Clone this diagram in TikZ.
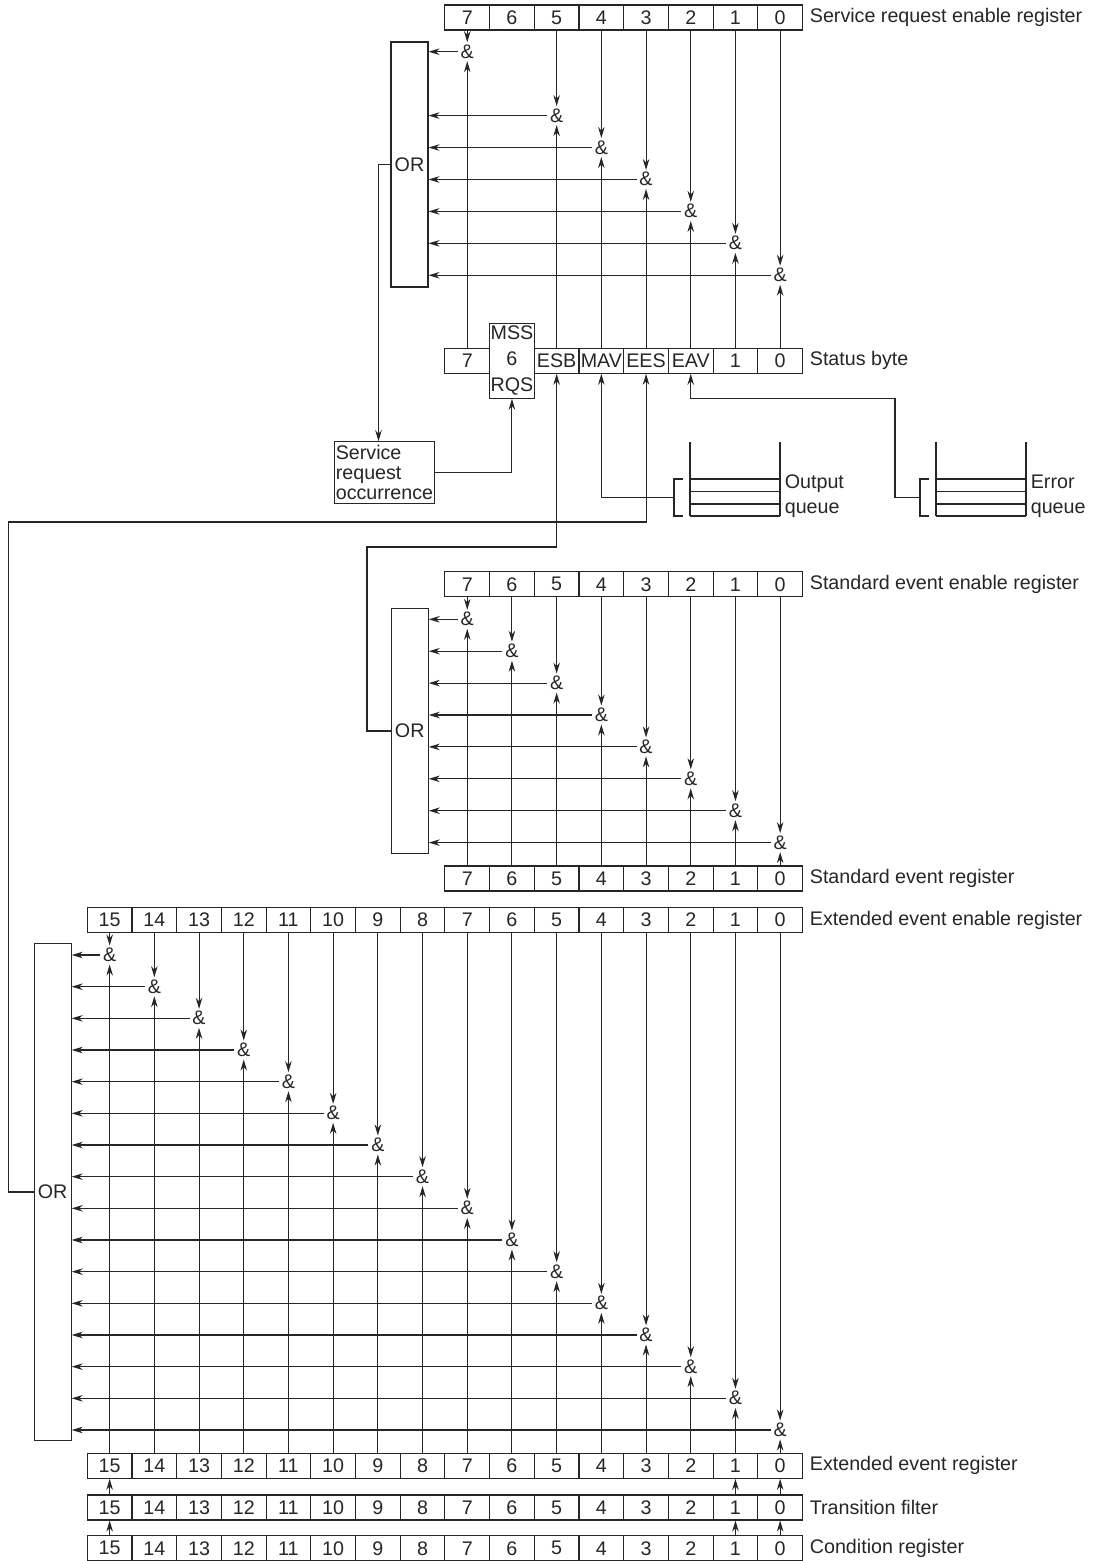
\documentclass[tikz,border=0pt]{standalone}
\usepackage{fontspec}
\setmainfont{Liberation Sans}
\usetikzlibrary{arrows.meta, calc, positioning}

\tikzstyle{cell}    =[rectangle, draw=black!85, line width=0.6pt, minimum width=0.894cm, minimum height=0.5cm, inner sep=0pt]
\tikzstyle{gate}    =[inner sep=1.5pt, text height=1.4ex, text depth=0pt]
\tikzstyle{orbox}   =[rectangle, draw=black!85, line width=0.6pt, minimum width=0.74cm, inner sep=0pt]
\tikzstyle{regname} =[anchor=west, inner sep=0pt]
\tikzstyle{wire}    =[draw=black!85, line width=0.6pt]
\tikzstyle{feed}    =[wire, -{Stealth[length=0.22cm, width=0.13cm, inset=0.07cm]}]

\begin{document}
\begin{tikzpicture}[font=\fontsize{11.2}{13.5}\selectfont, every node/.append style={text=black!85}]

	\useasboundingbox (0,0) rectangle (22,-31.22);

	% service request enable register and status byte
	\foreach \b in {0,...,7}
		\node (SRE\b)	[cell]	at ({15.603-0.894*\b}, -0.35)	{\b};
	\node (SRElbl)	[regname, right=0.13cm of SRE0]	{Service request enable register};

	\foreach \b/\t in {7/7,5/ESB,4/MAV,3/EES,2/EAV,1/1,0/0}
		\node (STB\b)	[cell]	at ({15.603-0.894*\b}, -7.215)	{\t};
	\node (STB6)	[cell, minimum height=1.5cm, align=center, font=\fontsize{11.2}{14.7}\selectfont]	at (10.239, -7.215)	{MSS\\6\\RQS};
	\node (STBlbl)	[regname, right=0.13cm of STB0]	{Status byte};

	\node (SROR)	[orbox, minimum height=4.9cm]	at (8.19, -3.29)	{OR};
	\foreach \b in {7,5,4,3,2,1,0}{
		\node (SRG\b)	[gate]	at ({15.603-0.894*\b}, {-1.034-0.6388*(7-\b)})	{\&};
		\draw[feed] (SRE\b) -- (SRG\b);
		\draw[feed] (STB\b) -- (SRG\b);
		\draw[feed] (SRG\b) -- (SRG\b -| SROR.east);
	}

	\node (SRQ)	[rectangle, draw=black!85, line width=0.6pt, align=left, minimum width=1.98cm, minimum height=1.23cm, inner sep=1pt, font=\fontsize{11.2}{11.3}\selectfont]	at (7.69, -9.45)	{Service\\request\\occurrence};
	\draw[feed] (SROR.west) -| ([xshift=-0.12cm]SRQ.north);
	\draw[feed] (SRQ.east) -| (STB6.south);

	% output queue and error queue
	\foreach \dx/\nm/\q in {0/Output/OQ, 4.92/Error/EQ}{
		\draw[wire] (13.8+\dx, -8.834) -- (13.8+\dx, -10.32)
		            (15.6+\dx, -8.834) -- (15.6+\dx, -10.32);
		\foreach \y in {-9.58, -9.834, -10.08, -10.32}
			\draw[wire] (13.8+\dx, \y) -- (15.6+\dx, \y);
		\draw[wire] (13.66+\dx, -9.58) -- (13.48+\dx, -9.58) -- (13.48+\dx, -10.32) -- (13.66+\dx, -10.32);
		\coordinate (\q) at (13.48+\dx, -9.95);
		\node (\q lbl)	[regname, align=left, font=\fontsize{11.2}{14.2}\selectfont]	at (15.69+\dx, -9.93)	{\nm\\queue};
	}
	\draw[feed] (OQ) -| (STB4.south);
	\coordinate (EAVturn) at (17.9, -7.97);
	\draw[feed] (EQ) -| (EAVturn) -| (STB2.south);

	% standard event registers
	\foreach \b in {0,...,7}{
		\node (SEE\b)	[cell]	at ({15.603-0.894*\b}, -11.685)	{\b};
		\node (SER\b)	[cell]	at ({15.603-0.894*\b}, -17.57)	{\b};
	}
	\node (SEElbl)	[regname, right=0.13cm of SEE0]	{Standard event enable register};
	\node (SERlbl)	[regname, right=0.13cm of SER0]	{Standard event register};

	\node (SEOR)	[orbox, minimum height=4.914cm]	at (8.195, -14.62)	{OR};
	\foreach \b in {0,...,7}{
		\node (SEG\b)	[gate]	at ({15.603-0.894*\b}, {-12.386-0.638*(7-\b)})	{\&};
		\draw[feed] (SEE\b) -- (SEG\b);
		\draw[feed] (SER\b) -- (SEG\b);
		\draw[feed] (SEG\b) -- (SEG\b -| SEOR.east);
	}
	\coordinate (ESBturn) at (7.34, -10.94);
	\draw[feed] (SEOR.west) -| (ESBturn) -| (STB5.south);

	% extended event registers
	\foreach \b in {0,...,15}{
		\node (XEE\b)	[cell]	at ({15.603-0.894*\b}, -18.40)	{\b};
		\node (XER\b)	[cell]	at ({15.603-0.894*\b}, -29.316)	{\b};
		\node (XTF\b)	[cell]	at ({15.603-0.894*\b}, -30.15)	{\b};
		\node (XCR\b)	[cell]	at ({15.603-0.894*\b}, -30.965)	{\b};
	}
	\node (XEElbl)	[regname, right=0.13cm of XEE0]	{Extended event enable register};
	\node (XERlbl)	[regname, right=0.13cm of XER0]	{Extended event register};
	\node (XTFlbl)	[regname, right=0.13cm of XTF0]	{Transition filter};
	\node (XCRlbl)	[regname, right=0.13cm of XCR0]	{Condition register};

	\node (XOR)	[orbox, minimum height=9.954cm]	at (1.053, -23.84)	{OR};
	\foreach \b in {0,...,15}{
		\node (XG\b)	[gate]	at ({15.603-0.894*\b}, {-19.10-0.6333*(15-\b)})	{\&};
		\draw[feed] (XEE\b) -- (XG\b);
		\draw[feed] (XER\b) -- (XG\b);
		\draw[feed] (XG\b) -- (XG\b -| XOR.east);
	}
	\foreach \b in {15,1,0}{
		\draw[feed] (XTF\b) -- (XER\b);
		\draw[feed] (XCR\b) -- (XTF\b);
	}
	\coordinate (EESturn) at (0.166, -10.44);
	\draw[feed] (XOR.west) -| (EESturn) -| (STB3.south);

\end{tikzpicture}
\end{document}
